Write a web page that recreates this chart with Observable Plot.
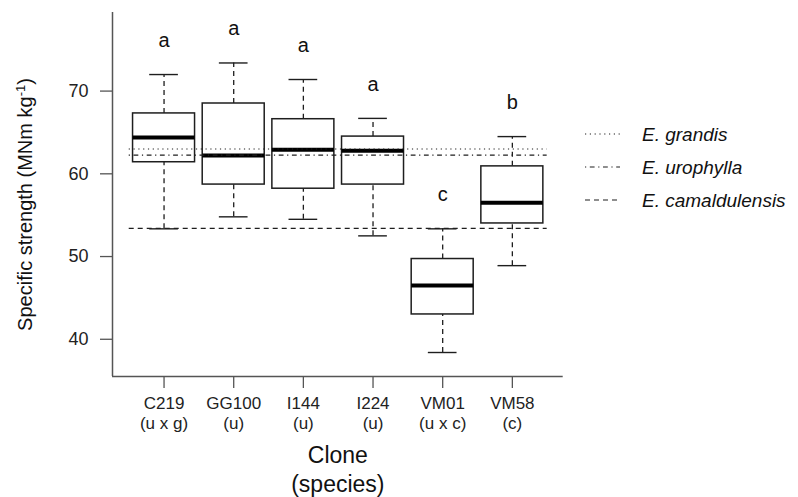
<!DOCTYPE html>
<html>
<head>
<meta charset="utf-8">
<script src="https://cdn.jsdelivr.net/npm/d3@7"></script>
<script src="https://cdn.jsdelivr.net/npm/@observablehq/plot@0.6"></script>
<style>
  body { margin: 0; background: #fff; }
  #chart { position: relative; width: 798px; height: 497px; font-family: "Liberation Sans", Arial, sans-serif; }
  #chart svg { overflow: visible; }
  #legend { position: absolute; left: 580px; top: 114px; }
</style>
</head>
<body>
<div id="chart"></div>
<script>
// Clones and their species group (u = urophylla, g = grandis, c = camaldulensis)
const clones  = ["C219", "GG100", "I144", "I224", "VM01", "VM58"];
const species = ["(u x g)", "(u)", "(u)", "(u)", "(u x c)", "(c)"];

// Box-plot statistics of specific strength (MNm kg-1)
const whiskerLow  = [53.35, 54.8, 54.5, 52.5, 38.4, 48.9];
const quartile1   = [61.4, 58.7, 58.2, 58.7, 43.0, 54.0];
const medians     = [64.4, 62.2, 62.9, 62.8, 46.5, 56.5];
const quartile3   = [67.3, 68.5, 66.6, 64.5, 49.7, 60.9];
const whiskerHigh = [72.0, 73.4, 71.4, 66.7, 53.35, 64.5];

// Significance groups
const groups = ["a", "a", "a", "a", "c", "b"];

// Reference means of the parent species
const refNames  = ["E. grandis", "E. urophylla", "E. camaldulensis"];
const refValues = [63.0, 62.25, 53.4];
const refDashes = ["1.2,3.6", "1.2,3.6,4.8,3.6", "5,4"];

const yTicks = [40, 50, 60, 70];

const boxes = clones.map((c, i) => ({
  pos: i + 1, clone: c, species: species[i],
  lo: whiskerLow[i], q1: quartile1[i], med: medians[i], q3: quartile3[i], hi: whiskerHigh[i],
  group: groups[i]
}));
const refs = refNames.map((n, i) => ({name: n, value: refValues[i], dash: refDashes[i]}));

const boxHalf = 0.445, capHalf = 0.206;
const ink = "#1e1e1e";

const plot = Plot.plot({
  width: 798,
  height: 497,
  marginLeft: 112,
  marginRight: 235.3,
  marginTop: 12,
  marginBottom: 121,
  style: {fontFamily: '"Liberation Sans", Arial, sans-serif', color: "#222", background: "#fff", overflow: "visible"},
  x: {type: "linear", domain: [0.26, 6.73]},
  y: {domain: [35.5, 79.5]},
  marks: [
    // whiskers
    Plot.ruleX(boxes, {x: "pos", y1: "lo", y2: "q1", stroke: ink, strokeWidth: 1.3, strokeDasharray: "5,4"}),
    Plot.ruleX(boxes, {x: "pos", y1: "q3", y2: "hi", stroke: ink, strokeWidth: 1.3, strokeDasharray: "5,4"}),
    Plot.ruleY(boxes, {y: "lo", x1: d => d.pos - capHalf, x2: d => d.pos + capHalf, stroke: ink, strokeWidth: 1.4}),
    Plot.ruleY(boxes, {y: "hi", x1: d => d.pos - capHalf, x2: d => d.pos + capHalf, stroke: ink, strokeWidth: 1.4}),
    // boxes and medians
    Plot.rect(boxes, {x1: d => d.pos - boxHalf, x2: d => d.pos + boxHalf, y1: "q1", y2: "q3", fill: "white", stroke: ink, strokeWidth: 1.5}),
    Plot.ruleY(boxes, {y: "med", x1: d => d.pos - boxHalf, x2: d => d.pos + boxHalf, stroke: "#000", strokeWidth: 4}),
    // species reference means
    ...refs.map(r => Plot.ruleY([r.value], {x1: 0.5, x2: 6.5, stroke: ink, strokeWidth: 1.2, strokeDasharray: r.dash})),
    // group letters above the upper whiskers
    Plot.text(boxes, {x: "pos", y: "hi", text: "group", dy: -34, fontSize: 20, fill: "#111"}),
    // axes
    Plot.ruleX([0.26], {stroke: "#555", strokeWidth: 1.5}),
    Plot.ruleY([35.5], {stroke: "#555", strokeWidth: 1.5}),
    Plot.axisY({ticks: yTicks, tickSize: 12, tickPadding: 12, fontSize: 18, label: null, stroke: "#555", strokeWidth: 1.3}),
    Plot.axisX({ticks: boxes.map(d => d.pos), tickFormat: p => clones[p - 1] + "\n" + species[p - 1],
      tickSize: 12, tickPadding: 6, fontSize: 17, lineHeight: 1.18, label: null, stroke: "#555", strokeWidth: 1.3}),
    // axis titles
    Plot.text(["Clone\n(species)"], {frameAnchor: "bottom", dy: 66, lineAnchor: "top", textAnchor: "middle", fontSize: 23, lineHeight: 1.26, fill: "#111"}),
    Plot.text(["Specific strength (MNm kg-1)"], {frameAnchor: "left", dx: -87, dy: 10, rotate: -90, textAnchor: "middle", lineAnchor: "middle", fontSize: 20, fill: "#111"})
  ]
});

document.getElementById("chart").appendChild(plot);

// superscript for the unit exponent in the y title
d3.select(plot).selectAll("text").filter(function() { return this.textContent === "Specific strength (MNm kg-1)"; })
  .each(function() {
    const t = d3.select(this);
    t.text("Specific strength (MNm kg");
    t.append("tspan").attr("baseline-shift", "super").attr("font-size", "13").text("-1");
    t.append("tspan").text(")");
  });

// legend for the species reference lines
const leg = d3.select("#chart").append("svg").attr("id", "legend").attr("width", 218).attr("height", 100)
  .style("font-family", '"Liberation Sans", Arial, sans-serif');
const row = leg.selectAll("g").data(refs).join("g").attr("transform", (d, i) => `translate(0,${20 + i * 33})`);
row.append("line").attr("x1", 5).attr("x2", 40).attr("stroke", ink).attr("stroke-width", 1.2).attr("stroke-dasharray", d => d.dash);
row.append("text").attr("x", 62).attr("dy", "0.35em").attr("font-size", 19).attr("font-style", "italic").attr("fill", "#111").text(d => d.name);
</script>
</body>
</html>
